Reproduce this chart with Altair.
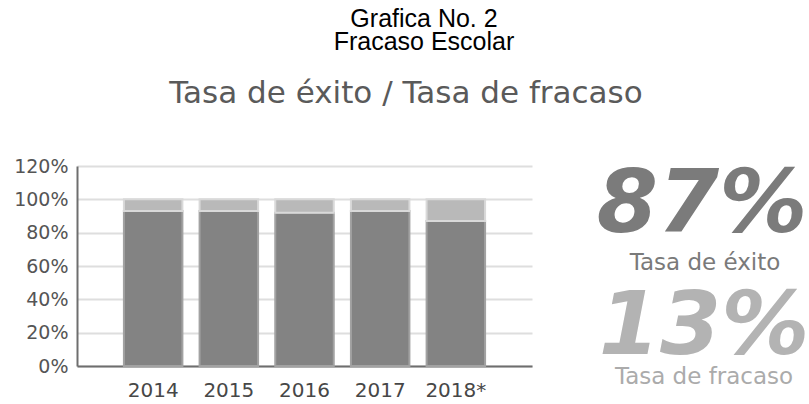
import altair as alt
import pandas as pd

# ---- data ----
years = ["2014", "2015", "2016", "2017", "2018*"]
exito = [93, 93, 92, 93, 87]      # Tasa de éxito (%)
fracaso = [7, 7, 8, 7, 13]        # Tasa de fracaso (%)
series = ["Tasa de éxito", "Tasa de fracaso"]
y_ticks = [0, 20, 40, 60, 80, 100, 120]

title_lines = ["Grafica No. 2", "Fracaso Escolar"]
subtitle = "Tasa de éxito / Tasa de fracaso"

rows = []
for i, yr in enumerate(years):
    rows.append({"year": yr, "tipo": series[0], "valor": exito[i], "orden": 0})
    rows.append({"year": yr, "tipo": series[1], "valor": fracaso[i], "orden": 1})
df = pd.DataFrame(rows)

bars = alt.Chart(df).mark_bar(strokeWidth=2).encode(
    x=alt.X("year:N", sort=years, title=None,
            scale=alt.Scale(paddingInner=0.227, paddingOuter=0.62),
            axis=alt.Axis(labelAngle=0, ticks=False, grid=False, domain=True,
                          domainColor="#6e6e6e", domainWidth=2,
                          labelFont="DejaVu Sans", labelFontSize=20,
                          labelColor="#474747", labelPadding=14)),
    y=alt.Y("valor:Q", stack="zero", title=None,
            scale=alt.Scale(domain=[0, 120], nice=False),
            axis=alt.Axis(values=y_ticks, labelExpr="datum.value + '%'",
                          ticks=False, grid=True, gridColor="#dedede", gridWidth=2,
                          domain=True, domainColor="#6e6e6e", domainWidth=2,
                          labelFont="DejaVu Sans", labelFontSize=19,
                          labelColor="#555555", labelPadding=9)),
    color=alt.Color("tipo:N", legend=None,
                    scale=alt.Scale(domain=series, range=["#838383", "#b9b9b9"])),
    stroke=alt.Stroke("tipo:N", legend=None,
                      scale=alt.Scale(domain=series, range=["#a2a2a2", "#d9d9d9"])),
    order=alt.Order("orden:Q"),
)

def label(text, x, y, size, color, font="DejaVu Sans", weight="normal", style="normal"):
    return alt.Chart(pd.DataFrame({"t": [text]})).mark_text(
        align="center", baseline="alphabetic", font=font, fontSize=size,
        color=color, fontWeight=weight, fontStyle=style
    ).encode(x=alt.value(x), y=alt.value(y), text="t:N")

texts = [
    label(title_lines[0], 347, -139, 25, "#000000", font="Liberation Sans"),
    label(title_lines[1], 347, -116, 25, "#000000", font="Liberation Sans"),
    label(subtitle, 329, -63, 31, "#5a5a5a"),
    label(f"{exito[-1]}%", 625, 66, 88, "#7b7b7b", weight="bold", style="italic"),
    label(series[0], 628, 104, 23, "#7a7a7a"),
    label(f"{fracaso[-1]}%", 627, 188, 88, "#b3b3b3", weight="bold", style="italic"),
    label(series[1], 627, 218, 23, "#ababab"),
]

chart = alt.layer(bars, *texts).properties(
    width=455, height=200,
    autosize=alt.AutoSizeParams(type="none"),
    padding={"left": 77, "top": 166, "right": 277, "bottom": 38},
    background="white",
).configure_view(stroke=None)

chart.save("out.html", embed_options={"renderer": "svg", "actions": False})
